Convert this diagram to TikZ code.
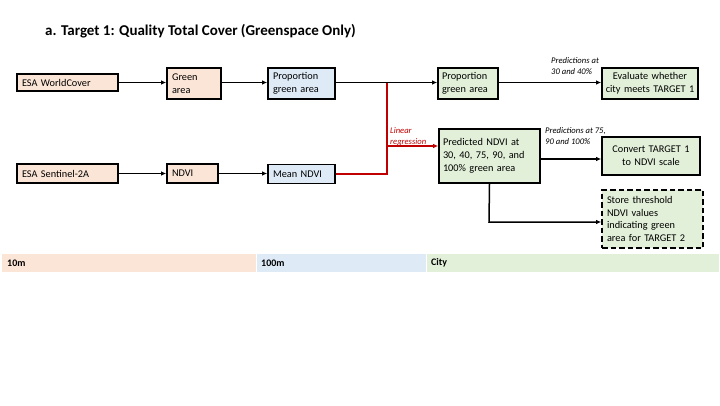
\documentclass[tikz,border=0pt]{standalone}
\usepackage{fontspec}
\setmainfont{Carlito}
\usetikzlibrary{arrows.meta}
\definecolor{orangefill}{HTML}{FBE5D6}
\definecolor{bluefill}{HTML}{DEEBF7}
\definecolor{greenfill}{HTML}{E2F0D9}
\definecolor{redline}{HTML}{C00000}
\tikzset{
  box/.style={draw=black, line width=1.6pt, inner xsep=5pt, inner ysep=2pt,
    font=\fontsize{10.3}{12.8}\selectfont, anchor=center},
  obox/.style={box, fill=orangefill},
  bbox/.style={box, fill=bluefill},
  gbox/.style={box, fill=greenfill},
  conn/.style={line width=1.5pt, -{Latex[length=5pt,width=4.5pt]}},
  redconn/.style={line width=1.5pt, draw=redline},
  lab/.style={font=\fontsize{8.6}{11}\selectfont\itshape, align=left, anchor=west, inner sep=0pt},
  bandlab/.style={font=\fontsize{10}{12}\selectfont\bfseries, anchor=west, inner sep=0pt}
}
\begin{document}
\begin{tikzpicture}[x=1pt,y=-1pt]
\useasboundingbox (0,0) rectangle (720,405);
\fill[white] (0,0) rectangle (720,405);

% title
\node[anchor=west, inner sep=0pt, font=\fontsize{15}{18}\selectfont\bfseries] (title) at (45,31) {a. Target 1: Quality Total Cover (Greenspace Only)};

% bands
\fill[orangefill] (2,254) rectangle (255.5,272);
\fill[bluefill] (256.5,254) rectangle (425.5,272);
\fill[greenfill] (426.5,254) rectangle (719,272);
\node[bandlab] (b1) at (7,263) {10m};
\node[bandlab] (b2) at (261,263) {100m};
\node[bandlab] (b3) at (431,263) {City};

% boxes
\node[obox, minimum width=101pt, minimum height=17pt, text width=91pt, align=left] (wc) at (67.5,82.5) {ESA WorldCover};
\node[obox, minimum width=54pt, minimum height=31pt, text width=44pt, align=left] (ga) at (194,83.5) {Green\\area};
\node[bbox, minimum width=67pt, minimum height=31pt, text width=57pt, align=left] (pb) at (301.5,83.5) {Proportion\\green area};
\node[gbox, minimum width=60pt, minimum height=31pt, text width=52pt, inner xsep=4pt, align=left] (pg) at (468,83.5) {Proportion\\green area};
\node[gbox, minimum width=96pt, minimum height=31pt, text width=92pt, inner xsep=2pt, align=center] (ev) at (650,83.5) {Evaluate whether\\city meets TARGET 1};

\node[obox, minimum width=101pt, minimum height=19pt, text width=91pt, align=left] (s2) at (67.5,173.5) {ESA Sentinel-2A};
\node[obox, minimum width=51pt, minimum height=19pt, text width=41pt, align=left] (nd) at (192.5,173.5) {NDVI};
\node[bbox, minimum width=67pt, minimum height=19pt, text width=57pt, align=left] (mn) at (301.5,174) {Mean NDVI};

\node[gbox, minimum width=101pt, minimum height=54pt, text width=93pt, inner xsep=4pt, align=left] (pr) at (489.5,156) {Predicted NDVI at\\30, 40, 75, 90, and\\100\% green area};
\node[gbox, minimum width=98pt, minimum height=38pt, text width=94pt, inner xsep=2pt, align=center] (cv) at (651,156) {Convert TARGET 1\\to NDVI scale};
\node[gbox, dashed, dash pattern=on 5.5pt off 3pt, minimum width=101pt, minimum height=58pt, text width=91pt, inner xsep=5pt, align=left] (st) at (652.5,219) {Store threshold\\NDVI values\\indicating green\\area for TARGET 2};

% connectors
\coordinate (j1) at (387,83);
\coordinate (j2) at (387,174);
\coordinate (j3) at (387,146);
\coordinate (k1) at (489,222);

\draw[redconn] (mn.east) -- (j2) -- (j1);
\draw[conn] (wc.east) -- (ga.west |- wc.east);
\draw[conn] (ga.east |- wc.east) -- (pb.west |- wc.east);
\draw[conn] (pb.east |- wc.east) -- (pg.west |- wc.east);
\draw[conn] (pg.east |- wc.east) -- (ev.west |- wc.east);
\draw[conn] (s2.east) -- (nd.west);
\draw[conn] (nd.east) -- (mn.west |- nd.east);
\draw[redconn, -{Latex[length=5pt,width=4.5pt]}] (j3) -- (pr.west |- j3);
\draw[conn] ([yshift=-3pt]pr.east) -- ([yshift=-3pt]cv.west);
\draw[conn] (pr.south) -- (k1) -- (st.west |- k1);

% labels
\node[lab] (l1) at (551,66.5) {Predictions at\\30 and 40\%};
\node[lab] (l2) at (545,136) {Predictions at 75,\\90 and 100\%};
\node[lab, text=redline] (l3) at (390,137) {Linear\\regression};
\end{tikzpicture}
\end{document}
